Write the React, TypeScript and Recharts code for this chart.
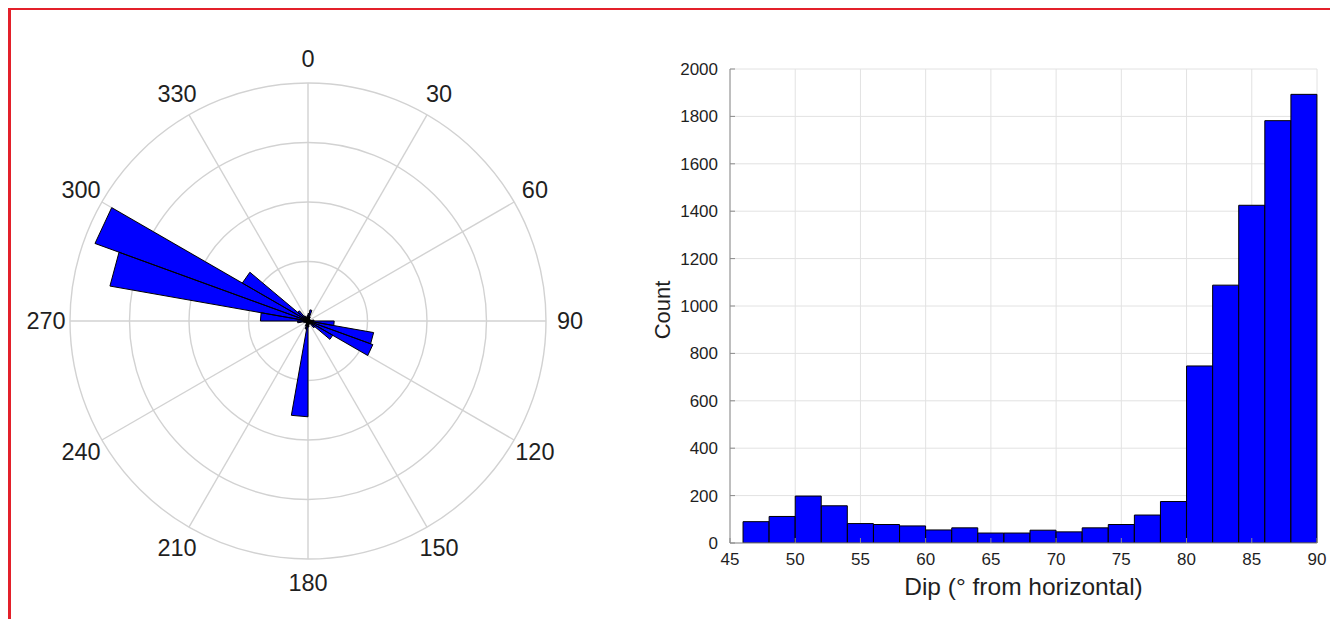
import React from 'react';
import {
  RadarChart,
  Radar,
  PolarGrid,
  PolarAngleAxis,
  PolarRadiusAxis,
  ComposedChart,
  Bar,
  XAxis,
  YAxis,
  CartesianGrid,
} from 'recharts';

// ---------- Rose diagram (strike, 10-degree bins) ----------
const roseBinStart = [
  0, 10, 20, 30, 40, 50, 60, 70, 80, 90, 100, 110, 120, 130, 140, 150, 160, 170,
  180, 190, 200, 210, 220, 230, 240, 250, 260, 270, 280, 290, 300, 310, 320, 330, 340, 350,
];
const roseCounts = [
  25, 38, 15, 8, 6, 6, 8, 10, 20, 88, 224, 232, 96, 30, 12, 10, 12, 20,
  322, 28, 18, 10, 8, 8, 10, 15, 35, 160, 676, 762, 255, 45, 20, 15, 12, 18,
];
const ROSE_BIN_WIDTH = 10;
const roseAngleTicks = [0, 30, 60, 90, 120, 150, 180, 210, 240, 270, 300, 330];
const roseRadiusMax = 800;

// ---------- Dip histogram (2-degree bins) ----------
const dipBinStart = [
  46, 48, 50, 52, 54, 56, 58, 60, 62, 64, 66, 68, 70, 72, 74, 76, 78, 80, 82, 84, 86, 88,
];
const dipCounts = [
  90, 112, 198, 157, 82, 78, 72, 55, 64, 42, 42, 54, 47, 64, 78, 118, 175, 747, 1088, 1425, 1782, 1893,
];
const dipTicks = [45, 50, 55, 60, 65, 70, 75, 80, 85, 90];
const countTicks = [0, 200, 400, 600, 800, 1000, 1200, 1400, 1600, 1800, 2000];

const FONT = '"Liberation Sans", Arial, Helvetica, sans-serif';
const TEXT_COLOR = '#1f1f1f';

// rose polygon (MATLAB-style triangles through the origin)
const roseData = roseBinStart.flatMap((a, i) => [
  { angle: a, r: 0 },
  { angle: a, r: roseCounts[i] },
  { angle: a + ROSE_BIN_WIDTH, r: roseCounts[i] },
  { angle: a + ROSE_BIN_WIDTH, r: 0 },
]);

const histData = dipBinStart.map((b, i) => ({ bin: b, count: dipCounts[i] }));

const RoseTick = (props: any) => {
  const { x, y, payload } = props;
  const rad = (payload.coordinate * Math.PI) / 180;
  const push = 16;
  const tx = x + push * Math.cos(rad);
  const ty = y - push * Math.sin(rad);
  return (
    <text
      x={tx}
      y={ty}
      textAnchor="middle"
      dominantBaseline="central"
      fontFamily={FONT}
      fontSize={23.5}
      fill={TEXT_COLOR}
    >
      {payload.value}
    </text>
  );
};

// histogram geometry
const H_W = 700;
const H_H = 570;
const H_MARGIN = { top: 19, right: 14, bottom: 27, left: 39 };
const Y_AXIS_W = 60;
const X_AXIS_H = 50;
const plotW = H_W - H_MARGIN.left - Y_AXIS_W - H_MARGIN.right;
const halfBinPx = plotW / (dipTicks[dipTicks.length - 1] - dipTicks[0]);

export default function App() {
  return (
    <div
      style={{
        position: 'relative',
        marginTop: -1,
        width: 1330,
        height: 609,
        overflow: 'hidden',
        borderTop: '3px solid #e3202a',
        borderLeft: '3px solid #e3202a',
        background: '#ffffff',
      }}
    >
      <div style={{ position: 'absolute', left: 10, top: 20 }}>
        <RadarChart
          width={570}
          height={580}
          cx={287}
          cy={291}
          outerRadius={238}
          data={roseData}
          startAngle={90}
          endAngle={-270}
        >
          <PolarGrid gridType="circle" stroke="#d2d2d2" strokeWidth={1.4} />
          <PolarAngleAxis
            dataKey="angle"
            type="number"
            domain={[0, 360]}
            ticks={roseAngleTicks}
            axisLine={false}
            tickLine={false}
            tick={<RoseTick />}
          />
          <PolarRadiusAxis
            type="number"
            domain={[0, roseRadiusMax]}
            tickCount={5}
            tick={false}
            axisLine={false}
          />
          <Radar
            dataKey="r"
            fill="#0000ff"
            fillOpacity={1}
            stroke="#000000"
            strokeWidth={1}
            dot={false}
            isAnimationActive={false}
          />
        </RadarChart>
      </div>

      <div style={{ position: 'absolute', left: 620, top: 40 }}>
        <ComposedChart
          width={H_W}
          height={H_H}
          data={histData}
          margin={H_MARGIN}
          barCategoryGap={0}
          barGap={0}
        >
          <CartesianGrid xAxisId="num" yAxisId="left" stroke="#e2e2e2" strokeWidth={1} />
          <XAxis
            xAxisId="num"
            dataKey="bin"
            type="number"
            domain={[45, 90]}
            ticks={dipTicks}
            allowDataOverflow
            height={X_AXIS_H}
            stroke="#8c8c8c"
            tickSize={-5}
            tickMargin={15}
            tick={{ fill: TEXT_COLOR, fontSize: 17, fontFamily: FONT }}
            label={{
              content: (p: any) => {
                const vb = p.viewBox;
                return (
                  <text
                    x={vb.x + vb.width / 2}
                    y={vb.y + 43}
                    textAnchor="middle"
                    dominantBaseline="central"
                    fontFamily={FONT}
                    fontSize={24.5}
                    fill={TEXT_COLOR}
                  >
                    Dip (° from horizontal)
                  </text>
                );
              },
            }}
          />
          <XAxis
            xAxisId="cat"
            dataKey="bin"
            type="category"
            hide
            height={0}
            padding={{ left: halfBinPx, right: 0 }}
          />
          <XAxis
            xAxisId="top"
            dataKey="bin"
            orientation="top"
            type="number"
            domain={[45, 90]}
            ticks={dipTicks}
            allowDataOverflow
            height={0}
            stroke="#8c8c8c"
            tickSize={-5}
            tick={false}
          />
          <YAxis
            yAxisId="left"
            domain={[0, 2000]}
            ticks={countTicks}
            allowDataOverflow
            width={Y_AXIS_W}
            stroke="#8c8c8c"
            tickSize={-5}
            tickMargin={17}
            tick={{ fill: TEXT_COLOR, fontSize: 17, fontFamily: FONT }}
            label={{
              content: (p: any) => {
                const vb = p.viewBox;
                const cxl = vb.x - 8;
                const cyl = vb.y + vb.height / 2 + 4;
                return (
                  <text
                    x={cxl}
                    y={cyl}
                    transform={`rotate(-90 ${cxl} ${cyl})`}
                    textAnchor="middle"
                    dominantBaseline="central"
                    fontFamily={FONT}
                    fontSize={22}
                    fill={TEXT_COLOR}
                  >
                    Count
                  </text>
                );
              },
            }}
          />
          <YAxis
            yAxisId="right"
            orientation="right"
            domain={[0, 2000]}
            ticks={countTicks}
            allowDataOverflow
            width={0}
            stroke="#8c8c8c"
            tickSize={-5}
            tick={false}
          />
          <Bar
            xAxisId="cat"
            yAxisId="left"
            dataKey="count"
            fill="#0000ff"
            stroke="#000000"
            strokeWidth={1}
            isAnimationActive={false}
          />
        </ComposedChart>
      </div>
    </div>
  );
}
